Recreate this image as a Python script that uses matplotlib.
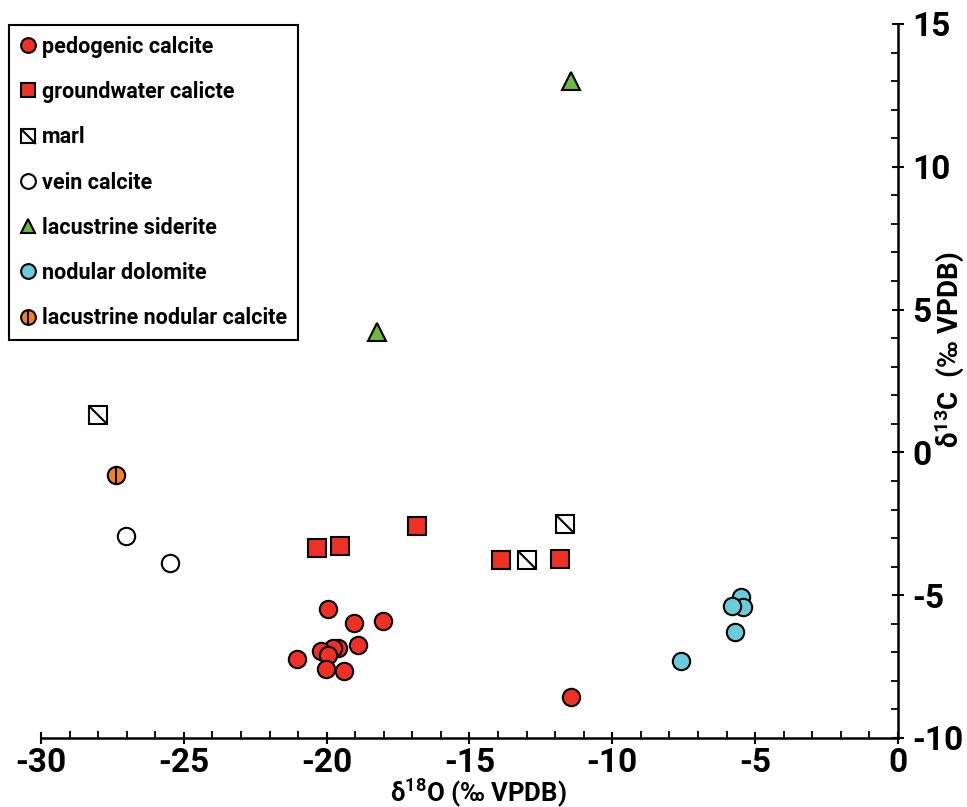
import numpy as np
import matplotlib
matplotlib.use('Agg')
import matplotlib.pyplot as plt
from matplotlib.path import Path
from matplotlib.legend_handler import HandlerTuple
from matplotlib.ticker import MultipleLocator

plt.rcParams['font.family'] = ['Roboto', 'DejaVu Sans']
plt.rcParams['font.weight'] = 'bold'
plt.rcParams['mathtext.fontset'] = 'custom'
plt.rcParams['mathtext.rm'] = 'Roboto:bold'
plt.rcParams['mathtext.default'] = 'rm'
plt.rcParams['axes.unicode_minus'] = False

# d18O (x), d13C (y) per sample type
pedo_x = [-19.96, -19.03, -18.02, -18.92, -19.59, -19.77, -20.2, -19.94, -21.05, -20.04, -19.38, -11.46]
pedo_y = [-5.5, -5.98, -5.9, -6.76, -6.84, -6.86, -6.95, -7.09, -7.23, -7.57, -7.65, -8.58]

gw_x = [-20.35, -19.53, -16.84, -13.91, -11.82]
gw_y = [-3.34, -3.27, -2.58, -3.77, -3.72]

marl_x = [-28.0, -13.0, -11.64]
marl_y = [1.31, -3.77, -2.52]

vein_x = [-27.02, -25.5]
vein_y = [-2.94, -3.87]

sid_x = [-11.45, -18.24]
sid_y = [13.0, 4.2]

dolo_x = [-5.49, -5.44, -5.82, -5.71, -7.59]
dolo_y = [-5.05, -5.40, -5.37, -6.28, -7.30]

lnc_x = [-27.37]
lnc_y = [-0.78]

red = '#EE3124'
green = '#6DB944'
cyan = '#6ACBDA'
orange = '#F58220'

fig = plt.figure(figsize=(9.67, 8.07), dpi=100)
ax = fig.add_axes([41/967, 1-738/807, (898-41)/967, (738-24)/807])

ms = 12.5
mew = 1.5
diag = Path([(-1, 1), (1, -1)], [Path.MOVETO, Path.LINETO])

kw = dict(linestyle='none', markeredgecolor='black', markeredgewidth=mew, markersize=ms)
h_pedo, = ax.plot(pedo_x, pedo_y, marker='o', markerfacecolor=red, **kw)
h_gw, = ax.plot(gw_x, gw_y, marker='s', markerfacecolor=red, **kw)
h_marl1, = ax.plot(marl_x, marl_y, marker='s', markerfacecolor='white', **kw)
h_marl2, = ax.plot(marl_x, marl_y, marker=diag, markerfacecolor='none', **kw)
h_vein, = ax.plot(vein_x, vein_y, marker='o', markerfacecolor='white', **kw)
h_sid, = ax.plot(sid_x, sid_y, marker='^', markerfacecolor=green, **kw)
h_dolo, = ax.plot(dolo_x, dolo_y, marker='o', markerfacecolor=cyan, **kw)
h_lnc1, = ax.plot(lnc_x, lnc_y, marker='o', markerfacecolor=orange, **kw)
h_lnc2, = ax.plot(lnc_x, lnc_y, marker='|', **kw)

ax.set_xlim(-30, 0)
ax.set_ylim(-10, 15)
ax.xaxis.set_major_locator(MultipleLocator(5))
ax.xaxis.set_minor_locator(MultipleLocator(1))
ax.yaxis.set_major_locator(MultipleLocator(5))
ax.yaxis.set_minor_locator(MultipleLocator(1))

ax.spines['top'].set_visible(False)
ax.spines['left'].set_visible(False)
ax.spines['bottom'].set_linewidth(1.8)
ax.spines['right'].set_linewidth(1.8)
ax.yaxis.tick_right()
ax.yaxis.set_label_position('right')
ax.tick_params(which='major', direction='inout', length=9, width=1.5, labelsize=24, pad=6)
ax.tick_params(which='minor', direction='in', length=5, width=1.3)
ax.tick_params(axis='x', pad=2)
for lab in ax.get_xticklabels() + ax.get_yticklabels():
    lab.set_fontweight('bold')

ax.set_xlabel('δ$^{18}$O (‰ VPDB)', fontsize=18.5, fontweight='bold')
ax.xaxis.set_label_coords((478-41)/857, (738-776)/714)
ax.set_ylabel('δ$^{13}$C  (‰ VPDB)', fontsize=20, fontweight='bold')
ax.yaxis.set_label_coords((932-41)/857, 1-(350-24)/714)

handles = [h_pedo, h_gw, (h_marl1, h_marl2), h_vein, h_sid, h_dolo, (h_lnc1, h_lnc2)]
labels = ['pedogenic calcite', 'groundwater calicte', 'marl', 'vein calcite',
          'lacustrine siderite', 'nodular dolomite', 'lacustrine nodular calcite']
leg = ax.legend(handles, labels, loc='upper left', bbox_to_anchor=(9/967, 1-25/807),
                bbox_transform=fig.transFigure, borderaxespad=0, frameon=True,
                fancybox=False, edgecolor='black', framealpha=1, markerscale=0.85,
                handler_map={tuple: HandlerTuple(ndivide=1)}, handlelength=0.75,
                handletextpad=0.3, labelspacing=1.08, borderpad=0.5,
                prop={'size': 15.5, 'weight': 'bold'})
leg.get_frame().set_linewidth(1.5)

fig.savefig('out.png', dpi=100)
